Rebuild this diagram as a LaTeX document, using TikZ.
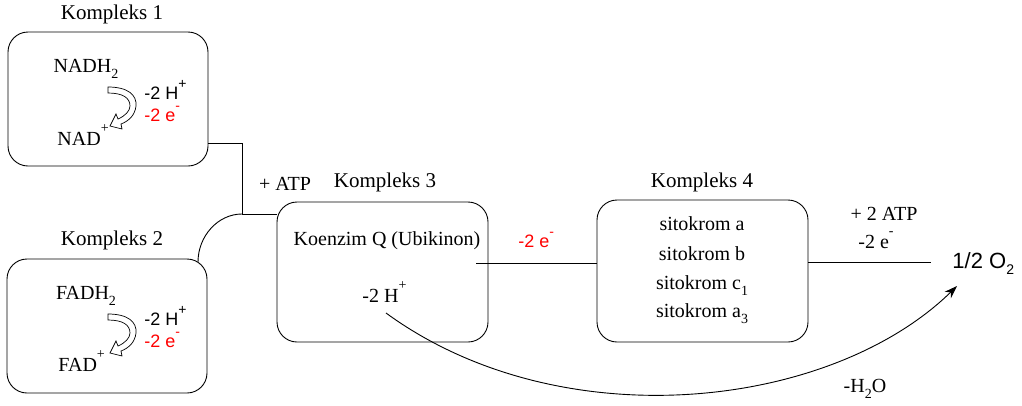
\documentclass[tikz,border=0pt]{standalone}
\usepackage{fontspec}
\setmainfont{Liberation Serif}
\setsansfont{Liberation Sans}
\usetikzlibrary{arrows.meta}
\newcommand{\supr}[1]{\smash{\raisebox{0.62em}{\fontsize{14}{14}\selectfont #1}}}
\newcommand{\subr}[1]{\smash{\raisebox{-0.3em}{\fontsize{14}{14}\selectfont #1}}}
\begin{document}
\begin{tikzpicture}[x=1pt,y=-1pt,line width=0.9pt,
  box/.style={draw,rounded corners=20pt,inner sep=0pt},
  title/.style={font=\fontsize{21}{24}\selectfont,inner sep=0pt,anchor=mid},
  ser/.style={font=\fontsize{20}{24}\selectfont,inner sep=0pt,anchor=mid},
  san/.style={font=\sffamily\fontsize{18}{20}\selectfont,inner sep=0pt,anchor=mid west},
  redtxt/.style={text=red},
  blockarrow/.style={line width=0.7pt,fill=white}]
\useasboundingbox (0,0) rectangle (1022,405);

% boxes
\node[box,minimum width=200pt,minimum height=134pt] (k1) at (108,99) {};
\node[box,minimum width=200pt,minimum height=134pt] (k2) at (107,326) {};
\node[box,minimum width=211pt,minimum height=140pt] (k3) at (382.5,272) {};
\node[box,minimum width=211pt,minimum height=142pt] (k4) at (702.5,271) {};

% titles
\node[title] (t1) at (112,17) {Kompleks 1};
\node[title] (t2) at (112,243) {Kompleks 2};
\node[title] (t3) at (385,185) {Kompleks 3};
\node[title] (t4) at (702,185) {Kompleks 4};

% complex 1 content
\node[ser] (nadh) at (86,70) {NADH\subr{2}};
\node[san] (h1) at (144,97) {-2 H\supr{+}};
\node[san,redtxt] (e1) at (144,119) {-2 e\supr{-}};
\node[ser,anchor=mid west] (nad) at (57,143) {NAD\supr{+}};
\draw[blockarrow] (108,87) .. controls (128,87) and (137,95) .. (136,106)
  .. controls (135,115) and (129,121) .. (121,124) -- (122,129) -- (110,126)
  -- (116,114) -- (118,119) .. controls (125,116) and (130,111) .. (130,106)
  .. controls (130,98) and (123,93) .. (108,93) -- cycle;

% complex 2 content
\node[ser] (fadh) at (86,297) {FADH\subr{2}};
\node[san] (h2) at (144,323) {-2 H\supr{+}};
\node[san,redtxt] (e2) at (144,345) {-2 e\supr{-}};
\node[ser,anchor=mid west] (fad) at (58,369) {FAD\supr{+}};
\begin{scope}[shift={(0,227)}]
\draw[blockarrow] (108,87) .. controls (128,87) and (137,95) .. (136,106)
  .. controls (135,115) and (129,121) .. (121,124) -- (122,129) -- (110,126)
  -- (116,114) -- (118,119) .. controls (125,116) and (130,111) .. (130,106)
  .. controls (130,98) and (123,93) .. (108,93) -- cycle;
\end{scope}

% complex 3 content
\node[ser] (kq) at (387,243) {Koenzim Q (Ubikinon)};
\node[ser,anchor=mid west] (h3) at (362,300) {-2 H\supr{+}};

% complex 4 content
\node[ser] (sa) at (702,228) {sitokrom a};
\node[ser] (sb) at (702,258) {sitokrom b};
\node[ser] (sc) at (702,287) {sitokrom c\subr{1}};
\node[ser] (sa3) at (702,315) {sitokrom a\subr{3}};

% labels
\node[ser] (atp1) at (285,188) {+ ATP};
\node[san,redtxt,anchor=mid west] (e3) at (518,245) {-2 e\supr{-}};
\node[ser] (atp2) at (884,218) {+ 2 ATP};
\node[ser,anchor=mid west] (e4) at (858,246) {-2 e\supr{-}};
\node[font=\sffamily\fontsize{22}{24}\selectfont,inner sep=0pt,anchor=mid west] (o2) at (952,266) {1/2 O\subr{2}};
\node[ser] (h2o) at (865,390) {-H\subr{2}O};

% connectors
\coordinate (j0) at (242,143);
\coordinate (j1) at (242,214);
\draw (k1.east |- j0) -| (j1) -- (k3.west |- j1);
\coordinate (a0) at (198,262);
\draw (a0) .. controls (198,236) and (218,214) .. (j1);
\coordinate (q0) at (476,263);
\draw (q0) -- (k4.west |- q0);
\coordinate (r0) at (808,262);
\coordinate (r1) at (931,262);
\draw (r0) -- (r1);
\coordinate (c0) at (386,313);
\coordinate (c1) at (957,286);
\draw[-{Stealth[length=13pt,width=9pt]}] (c0) .. controls (560,440) and (830,410) .. (c1);
\end{tikzpicture}
\end{document}
